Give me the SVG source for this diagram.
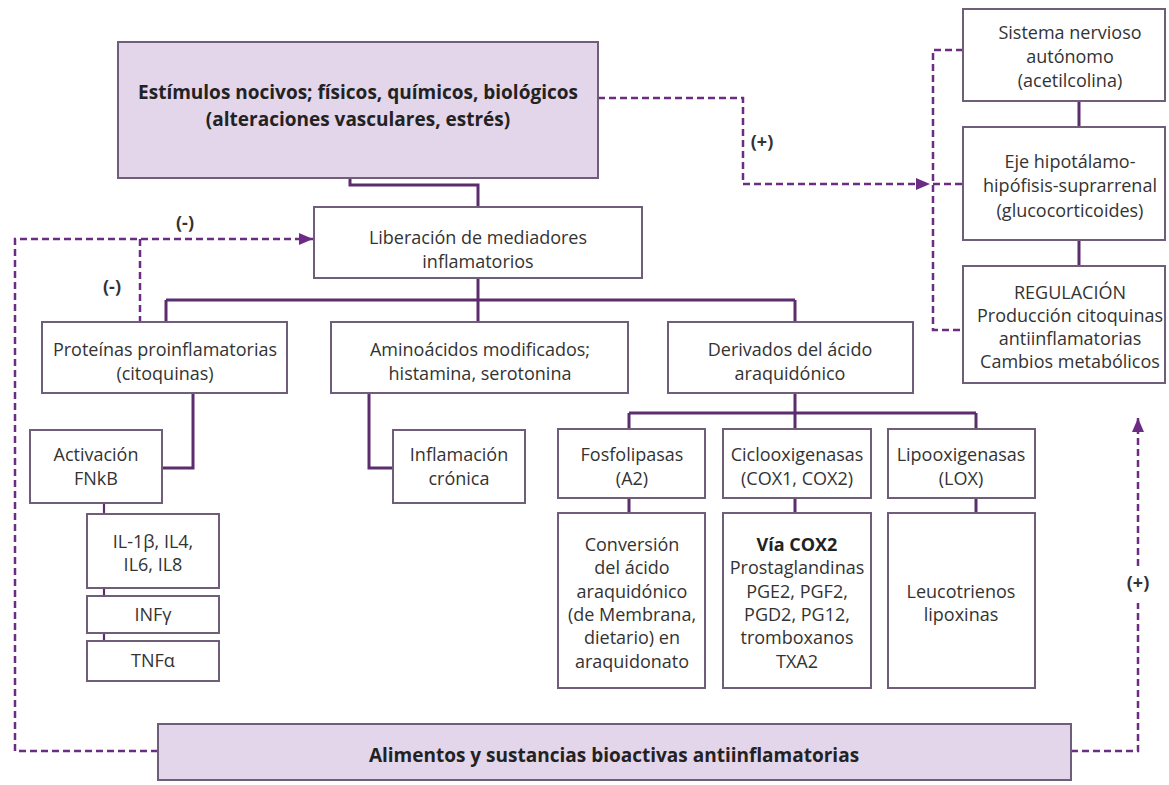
<svg xmlns="http://www.w3.org/2000/svg" width="1169" height="785" viewBox="0 0 1169 785">
<defs>
<style>
.box{fill:#ffffff;stroke:#6f5d79;stroke-width:2}
.fbox{fill:#e3d5ea;stroke:#6f5d79;stroke-width:2}
.t{font-family:"Open Sans","Noto Sans","Liberation Sans",sans-serif;font-size:18px;fill:#333333;text-anchor:middle}
.b{font-weight:bold;fill:#222222}
.big{font-size:19px}
.lab{font-family:"Open Sans","Noto Sans","Liberation Sans",sans-serif;font-size:18px;font-weight:bold;fill:#333333;text-anchor:middle}
.sol{fill:none;stroke:#5c2d6e;stroke-width:3}
.thin{fill:none;stroke:#5c2d6e;stroke-width:2.2}
.dash{fill:none;stroke:#6b2d84;stroke-width:2.5;stroke-dasharray:7 4}
</style>
<marker id="ah" markerUnits="userSpaceOnUse" markerWidth="14" markerHeight="12" refX="14" refY="6" orient="auto">
<path d="M0,0 L14,6 L0,12 z" fill="#6b2d84"/>
</marker>
</defs>
<rect width="1169" height="785" fill="#ffffff"/>

<g id="connectors">
<path class="sol" d="M350,178 V185 H478 V207"/>
<path class="sol" d="M478,278 V300"/>
<path class="sol" d="M166,300 H795"/>
<path class="sol" d="M166,300 V322 M478,300 V322 M795,300 V322"/>
<path class="sol" d="M193,393 V468 H162"/>
<path class="sol" d="M369,393 V468 H393"/>
<path class="sol" d="M795,393 V413 M629,413 H976 M629,413 V429 M795,413 V429 M976,413 V429"/>
<path class="sol" d="M629,498 V513 M795,498 V513 M976,498 V513"/>
<path class="thin" d="M104,503 V514 M104,588 V596 M104,633 V641"/>
<path class="sol" d="M1079,101 V127 M1079,240 V266"/>
<path class="dash" d="M598,98 H743 V184 H930" marker-end="url(#ah)"/>
<path class="dash" d="M963,50 H933 V330 H963 M933,184 H963"/>
<path class="dash" d="M158,751 H15 V239 H313" marker-end="url(#ah)"/>
<path class="dash" d="M140,239 V322"/>
<path class="dash" d="M1071,751 H1138 V603"/>
<path class="dash" d="M1138,566 V418" marker-end="url(#ah)"/>
<text class="lab" x="762" y="148">(+)</text>
<text class="lab" x="1138" y="589">(+)</text>
<text class="lab" x="185" y="229">(-)</text>
<text class="lab" x="112" y="293">(-)</text>
</g>

<g id="estimulos">
<rect class="fbox" x="118" y="42" width="480" height="136"/>
<text class="t b big" x="358" y="99">Estímulos nocivos; físicos, químicos, biológicos</text>
<text class="t b big" x="358" y="126">(alteraciones vasculares, estrés)</text>
</g>

<g id="liberacion">
<rect class="box" x="314" y="207" width="328" height="71"/>
<text class="t" x="478" y="244">Liberación de mediadores</text>
<text class="t" x="478" y="268">inflamatorios</text>
</g>

<g id="proteinas">
<rect class="box" x="42" y="322" width="245" height="71"/>
<text class="t" x="165" y="356">Proteínas proinflamatorias</text>
<text class="t" x="165" y="380">(citoquinas)</text>
</g>

<g id="aminoacidos">
<rect class="box" x="331" y="322" width="297" height="71"/>
<text class="t" x="480" y="356">Aminoácidos modificados;</text>
<text class="t" x="480" y="380">histamina, serotonina</text>
</g>

<g id="derivados">
<rect class="box" x="668" y="322" width="245" height="71"/>
<text class="t" x="790" y="356">Derivados del ácido</text>
<text class="t" x="790" y="380">araquidónico</text>
</g>

<g id="activacion">
<rect class="box" x="30" y="430" width="132" height="73"/>
<text class="t" x="96" y="461">Activación</text>
<text class="t" x="96" y="485">FNkB</text>
</g>

<g id="il">
<rect class="box" x="87" y="514" width="132" height="74"/>
<text class="t" x="153" y="548">IL-1β, IL4,</text>
<text class="t" x="153" y="571">IL6, IL8</text>
</g>

<g id="infg">
<rect class="box" x="87" y="596" width="132" height="37"/>
<text class="t" x="153" y="621">INFγ</text>
</g>

<g id="tnfa">
<rect class="box" x="87" y="641" width="132" height="40"/>
<text class="t" x="153" y="667">TNFα</text>
</g>

<g id="inflamacion">
<rect class="box" x="393" y="430" width="132" height="73"/>
<text class="t" x="459" y="461">Inflamación</text>
<text class="t" x="459" y="485">crónica</text>
</g>

<g id="fosfolipasas">
<rect class="box" x="558" y="429" width="147" height="69"/>
<text class="t" x="632" y="461">Fosfolipasas</text>
<text class="t" x="632" y="485">(A2)</text>
</g>

<g id="ciclooxigenasas">
<rect class="box" x="723" y="429" width="148" height="69"/>
<text class="t" x="797" y="461">Ciclooxigenasas</text>
<text class="t" x="797" y="485">(COX1, COX2)</text>
</g>

<g id="lipooxigenasas">
<rect class="box" x="888" y="429" width="147" height="69"/>
<text class="t" x="961" y="461">Lipooxigenasas</text>
<text class="t" x="961" y="485">(LOX)</text>
</g>

<g id="conversion">
<rect class="box" x="558" y="513" width="147" height="175"/>
<text class="t" x="632" y="551">Conversión</text>
<text class="t" x="632" y="574">del ácido</text>
<text class="t" x="632" y="598">araquidónico</text>
<text class="t" x="632" y="621">(de Membrana,</text>
<text class="t" x="632" y="644">dietario) en</text>
<text class="t" x="632" y="668">araquidonato</text>
</g>

<g id="viacox2">
<rect class="box" x="723" y="513" width="148" height="175"/>
<text class="t b" x="797" y="551">Vía COX2</text>
<text class="t" x="797" y="574">Prostaglandinas</text>
<text class="t" x="797" y="598">PGE2, PGF2,</text>
<text class="t" x="797" y="621">PGD2, PG12,</text>
<text class="t" x="797" y="644">tromboxanos</text>
<text class="t" x="797" y="668">TXA2</text>
</g>

<g id="leucotrienos">
<rect class="box" x="888" y="513" width="147" height="175"/>
<text class="t" x="961" y="598">Leucotrienos</text>
<text class="t" x="961" y="621">lipoxinas</text>
</g>

<g id="sistema">
<rect class="box" x="963" y="9" width="202" height="92"/>
<text class="t" x="1070" y="39">Sistema nervioso</text>
<text class="t" x="1070" y="63">autónomo</text>
<text class="t" x="1070" y="87">(acetilcolina)</text>
</g>

<g id="eje">
<rect class="box" x="963" y="127" width="202" height="113"/>
<text class="t" x="1070" y="168">Eje hipotálamo-</text>
<text class="t" x="1070" y="192">hipófisis-suprarrenal</text>
<text class="t" x="1070" y="217">(glucocorticoides)</text>
</g>

<g id="regulacion">
<rect class="box" x="963" y="266" width="202" height="117"/>
<text class="t" x="1070" y="299">REGULACIÓN</text>
<text class="t" x="1070" y="322">Producción citoquinas</text>
<text class="t" x="1070" y="345">antiinflamatorias</text>
<text class="t" x="1070" y="368">Cambios metabólicos</text>
</g>

<g id="alimentos">
<rect class="fbox" x="158" y="724" width="913" height="56"/>
<text class="t b big" x="614" y="762">Alimentos y sustancias bioactivas antiinflamatorias</text>
</g>
</svg>
